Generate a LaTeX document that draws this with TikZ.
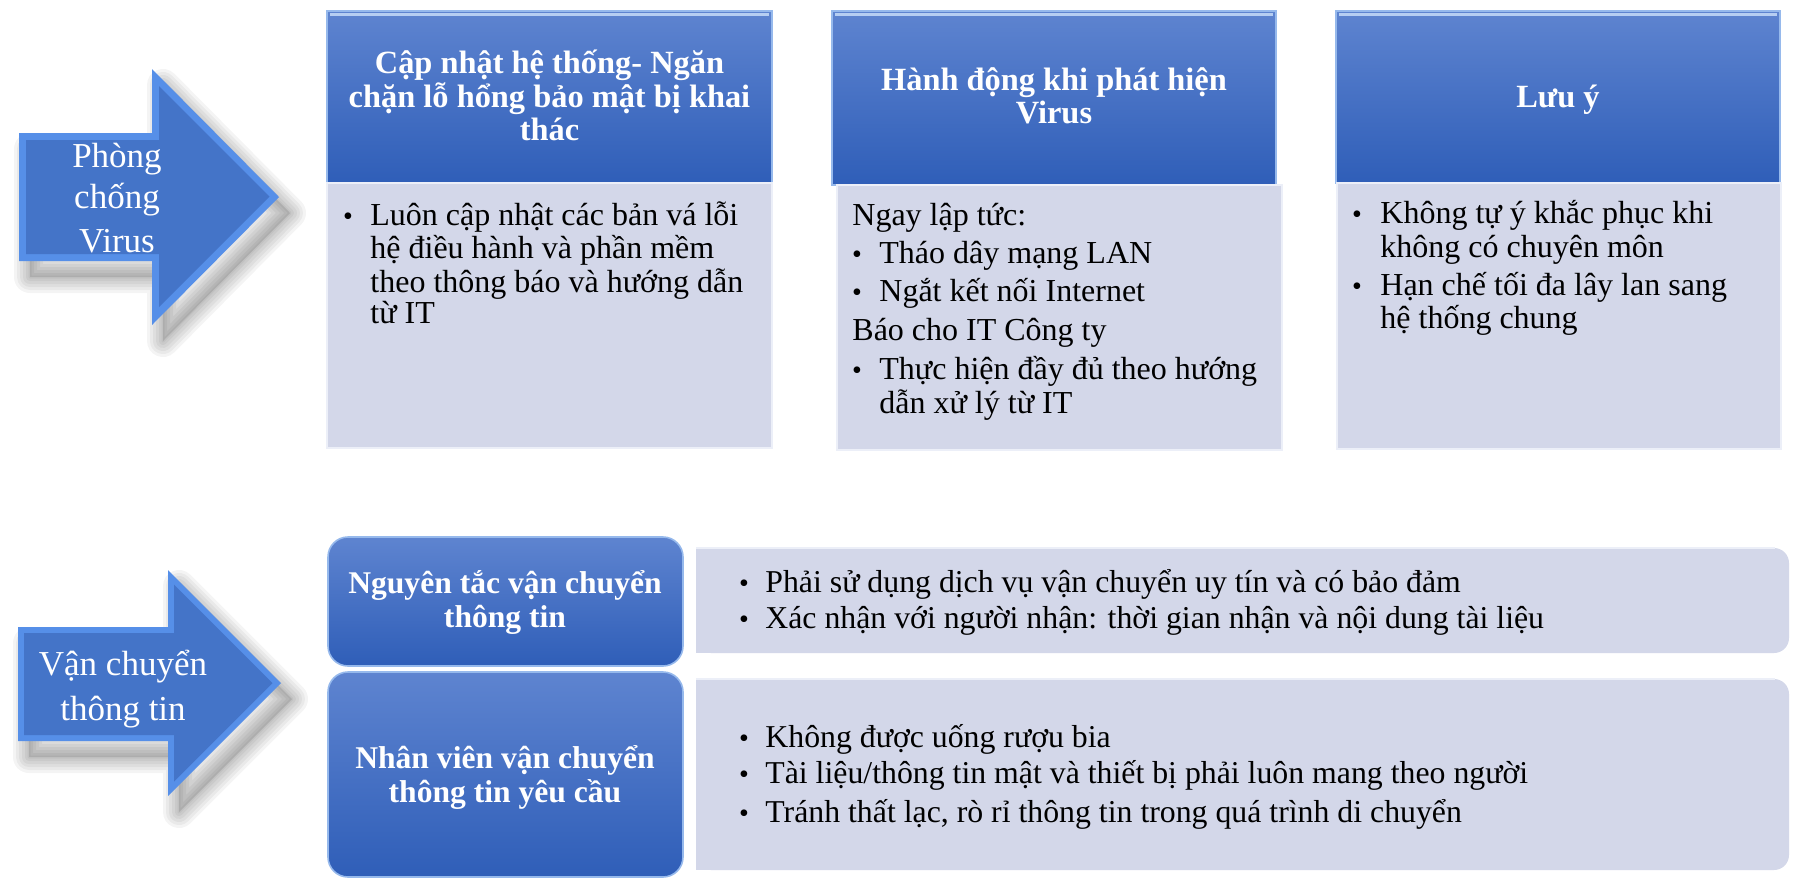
\documentclass[tikz,border=0pt]{standalone}
\usepackage{fontspec}
\setmainfont{Liberation Serif}
\definecolor{hdtop}{RGB}{94,132,208}
\definecolor{hdbot}{RGB}{47,94,184}
\definecolor{hdedge}{RGB}{150,185,236}
\definecolor{bodyfill}{RGB}{211,215,233}
\definecolor{bodyedge}{RGB}{236,239,248}
\definecolor{arrmain}{RGB}{68,116,200}
\definecolor{arredge}{RGB}{86,143,232}
\tikzset{
  hdtxt/.style={inner sep=0pt, anchor=base, text=white, font=\fontsize{16.2}{17}\selectfont\bfseries},
  bhdtxt/.style={inner sep=0pt, anchor=base, text=white, font=\fontsize{15.8}{17}\selectfont\bfseries},
  bdtxt/.style={inner sep=0pt, anchor=base west, text=black, font=\fontsize{16}{17}\selectfont},
  bbdtxt/.style={inner sep=0pt, anchor=base west, text=black, font=\fontsize{15.9}{17}\selectfont},
  arrtxt/.style={inner sep=0pt, anchor=base, text=white, font=\fontsize{17.5}{18}\selectfont},
  bul/.style={inner sep=0pt, anchor=base, text=black, font=\fontsize{14}{17}\selectfont},
  hdbox/.style={top color=hdtop, bottom color=hdbot, draw=hdedge, line width=0.8pt},
  bodybox/.style={fill=bodyfill, draw=bodyedge, line width=0.8pt},
  shadowlayer/.style={draw=black, draw opacity=0.045, line join=round}
}
\begin{document}
\begin{tikzpicture}[x=0.5pt,y=-0.5pt]
\useasboundingbox (0,0) rectangle (1795,880);
\fill[white] (0,0) rectangle (1795,880);

% ---------- top arrow ----------
\begin{scope}[shift={(11,16)}]
  \fill[black, opacity=0.10] (19,133) -- (152,133) -- (152,69) -- (279,197) -- (152,325) -- (152,261) -- (19,261) -- cycle;
  \foreach \w in {32,26,20,14,8,3}
    \draw[shadowlayer, line width=\w*0.5pt] (19,133) -- (152,133) -- (152,69) -- (279,197) -- (152,325) -- (152,261) -- (19,261) -- cycle;
\end{scope}
\fill[arredge] (19,133) -- (152,133) -- (152,69) -- (279,197) -- (152,325) -- (152,261) -- (19,261) -- cycle;
\fill[arrmain] (26,140) -- (159,140) -- (159,86) -- (269.5,196.5) -- (159,307) -- (159,254) -- (26,254) -- cycle;
\node[arrtxt] (a1l1) at (117,167) {Phòng};
\node[arrtxt] (a1l2) at (117,208) {chống};
\node[arrtxt] (a1l3) at (117,252) {Virus};

% ---------- column 1 ----------
\shade[hdbox] (327,11) rectangle (772,183);
\draw[hdedge!70!white, line width=1.2pt] (330,14.5) -- (769,14.5);
\path[bodybox] (327,183) rectangle (772,448);
\node[hdtxt] (h1l1) at (549.5,73) {Cập nhật hệ thống- Ngăn};
\node[hdtxt] (h1l2) at (549.5,107) {chặn lỗ hổng bảo mật bị khai};
\node[hdtxt] (h1l3) at (549.5,140) {thác};
\node[bul] (b1u1) at (348,225) {•};
\node[bdtxt] (b1l1) at (370,225) {Luôn cập nhật các bản vá lỗi};
\node[bdtxt] (b1l2) at (370,258) {hệ điều hành và phần mềm};
\node[bdtxt] (b1l3) at (370,292) {theo thông báo và hướng dẫn};
\node[bdtxt] (b1l4) at (370,323) {từ IT};

% ---------- column 2 ----------
\shade[hdbox] (832,11) rectangle (1276,185);
\draw[hdedge!70!white, line width=1.2pt] (835,14.5) -- (1273,14.5);
\path[bodybox] (837,185) rectangle (1282,450);
\node[hdtxt] (h2l1) at (1054,90) {Hành động khi phát hiện};
\node[hdtxt] (h2l2) at (1054,123) {Virus};
\node[bdtxt] (b2l1) at (852,225) {Ngay lập tức:};
\node[bul] (b2u1) at (857,263) {•};
\node[bdtxt] (b2l2) at (879,263) {Tháo dây mạng LAN};
\node[bul] (b2u2) at (857,301) {•};
\node[bdtxt] (b2l3) at (879,301) {Ngắt kết nối Internet};
\node[bdtxt] (b2l4) at (852,340) {Báo cho IT Công ty};
\node[bul] (b2u3) at (857,379) {•};
\node[bdtxt] (b2l5) at (879,379) {Thực hiện đầy đủ theo hướng};
\node[bdtxt] (b2l6) at (879,413) {dẫn xử lý từ IT};

% ---------- column 3 ----------
\shade[hdbox] (1336,11) rectangle (1780,183);
\draw[hdedge!70!white, line width=1.2pt] (1339,14.5) -- (1777,14.5);
\path[bodybox] (1337,183) rectangle (1781,449);
\node[hdtxt] (h3l1) at (1558,107) {Lưu ý};
\node[bul] (b3u1) at (1357,223) {•};
\node[bdtxt] (b3l1) at (1380,223) {Không tự ý khắc phục khi};
\node[bdtxt] (b3l2) at (1380,257) {không có chuyên môn};
\node[bul] (b3u2) at (1357,295) {•};
\node[bdtxt] (b3l3) at (1380,295) {Hạn chế tối đa lây lan sang};
\node[bdtxt] (b3l4) at (1380,328) {hệ thống chung};

% ---------- bottom arrow ----------
\begin{scope}[shift={(11,16)}]
  \fill[black, opacity=0.10] (18,627) -- (168,627) -- (168,570) -- (281,683) -- (168,796) -- (168,741) -- (18,741) -- cycle;
  \foreach \w in {32,26,20,14,8,3}
    \draw[shadowlayer, line width=\w*0.5pt] (18,627) -- (168,627) -- (168,570) -- (281,683) -- (168,796) -- (168,741) -- (18,741) -- cycle;
\end{scope}
\fill[arredge] (18,627) -- (168,627) -- (168,570) -- (281,683) -- (168,796) -- (168,741) -- (18,741) -- cycle;
\fill[arrmain] (24,633) -- (174,633) -- (174,584.5) -- (272.5,683) -- (174,781.5) -- (174,735) -- (24,735) -- cycle;
\node[arrtxt] (a2l1) at (123,675) {Vận chuyển};
\node[arrtxt] (a2l2) at (123,720) {thông tin};

% ---------- bottom row A ----------
\fill[bodyfill, rounded corners=7.5pt] (696,548) rectangle (1789,653);
\fill[bodyfill] (696,548) rectangle (760,653);
\draw[bodyedge, line width=0.8pt] (696,548) -- (1775,548);
\shade[hdbox, rounded corners=10pt] (328,537) rectangle (683,666);
\node[bhdtxt] (hal1) at (505,593) {Nguyên tắc vận chuyển};
\node[bhdtxt] (hal2) at (505,627) {thông tin};
\node[bul] (bau1) at (744,592) {•};
\node[bbdtxt] (bal1) at (765,592) {Phải sử dụng dịch vụ vận chuyển uy tín và có bảo đảm};
\node[bul] (bau2) at (744,628) {•};
\node[bbdtxt] (bal2) at (765,628) {Xác nhận với người nhận: thời gian nhận và nội dung tài liệu};

% ---------- bottom row B ----------
\fill[bodyfill, rounded corners=7.5pt] (696,679) rectangle (1789,870);
\fill[bodyfill] (696,679) rectangle (760,870);
\draw[bodyedge, line width=0.8pt] (696,679) -- (1775,679);
\shade[hdbox, rounded corners=10pt] (328,672) rectangle (683,877);
\node[bhdtxt] (hbl1) at (505,768) {Nhân viên vận chuyển};
\node[bhdtxt] (hbl2) at (505,802) {thông tin yêu cầu};
\node[bul] (bbu1) at (744,747) {•};
\node[bbdtxt] (bbl1) at (765,747) {Không được uống rượu bia};
\node[bul] (bbu2) at (744,783) {•};
\node[bbdtxt] (bbl2) at (765,783) {Tài liệu/thông tin mật và thiết bị phải luôn mang theo người};
\node[bul] (bbu3) at (744,822) {•};
\node[bbdtxt] (bbl3) at (765,822) {Tránh thất lạc, rò rỉ thông tin trong quá trình di chuyển};
\end{tikzpicture}
\end{document}
